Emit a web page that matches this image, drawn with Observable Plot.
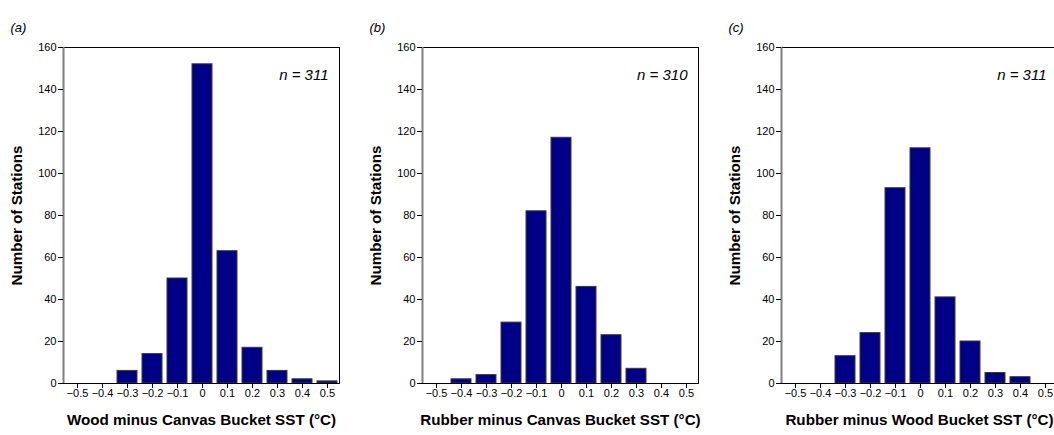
<!DOCTYPE html>
<html>
<head>
<meta charset="utf-8">
<script src="https://cdn.jsdelivr.net/npm/d3@7"></script>
<script src="https://cdn.jsdelivr.net/npm/@observablehq/plot@0.6"></script>
<style>
  html, body { margin: 0; padding: 0; background: #fff; }
  #wrap { position: relative; width: 1054px; height: 435px; overflow: hidden; font-family: "Liberation Sans", Arial, Helvetica, sans-serif; }
  .panel { position: absolute; top: 0; width: 350px; height: 435px; }
  .panel svg { max-width: none !important; }
</style>
</head>
<body>
<div id="wrap"></div>
<script>
// ---- data ----
const bins = [-0.5, -0.4, -0.3, -0.2, -0.1, 0, 0.1, 0.2, 0.3, 0.4, 0.5];
const countsWoodCanvas   = [0, 0, 6, 14, 50, 152, 63, 17, 6, 2, 1];
const countsRubberCanvas = [0, 2, 4, 29, 82, 117, 46, 23, 7, 0, 0];
const countsRubberWood   = [0, 0, 13, 24, 93, 112, 41, 20, 5, 3, 0];
const xTicks = [-0.5, -0.4, -0.3, -0.2, -0.1, 0, 0.1, 0.2, 0.3, 0.4, 0.5];
const yTicks = [0, 20, 40, 60, 80, 100, 120, 140, 160];
const panelLabels = ["(a)", "(b)", "(c)"];
const nLabels = ["n = 311", "n = 310", "n = 311"];
const xTitles = [
  "Wood minus Canvas Bucket SST (°C)",
  "Rubber minus Canvas Bucket SST (°C)",
  "Rubber minus Wood Bucket SST (°C)"
];
const yTitle = "Number of Stations";
const seriesList = [countsWoodCanvas, countsRubberCanvas, countsRubberWood];

// ---- layout ----
const lefts = [0, 359, 718];
const xDomain = [-0.556, 0.548];
const halfWidth = 0.04;
const fmt = d3.format(".1f");

const wrap = document.getElementById("wrap");

seriesList.forEach((counts, i) => {
  const data = bins.map((b, j) => ({bin: b, count: counts[j]}));
  const chart = Plot.plot({
    width: 350,
    height: 435,
    marginLeft: 63,
    marginRight: 11,
    marginTop: 47,
    marginBottom: 52,
    style: {fontFamily: '"Liberation Sans", Arial, Helvetica, sans-serif', background: "transparent", color: "#000", overflow: "visible"},
    x: {domain: xDomain, ticks: xTicks, tickFormat: d => d === 0 ? "0" : fmt(d)},
    y: {domain: [0, 160], ticks: yTicks},
    marks: [
      Plot.rectY(data, {
        x1: d => d.bin - halfWidth,
        x2: d => d.bin + halfWidth,
        y1: 0,
        y2: "count",
        fill: "#000087",
        stroke: "#3a3a3a",
        strokeWidth: 1
      }),
      Plot.frame({stroke: "#000", strokeWidth: 1}),
      Plot.ruleX([xDomain[0]], {stroke: "#808080", strokeWidth: 2}),
      Plot.axisX({ticks: xTicks, tickFormat: d => d === 0 ? "0" : fmt(d), tickSize: 5, tickPadding: 1, fontSize: 11, label: null}),
      Plot.axisY({ticks: yTicks, tickSize: 5, tickPadding: 2, fontSize: 11, label: null}),
      Plot.text([nLabels[i]], {frameAnchor: "top-right", dx: -11, dy: 22, textAnchor: "end", fontSize: 15, fontStyle: "italic"}),
      Plot.text([panelLabels[i]], {frameAnchor: "top-left", dx: -53, dy: -25, textAnchor: "start", fontSize: 13, fontStyle: "italic"}),
      Plot.text([xTitles[i]], {frameAnchor: "bottom", dy: 41, textAnchor: "middle", fontSize: 15.2, fontWeight: "bold"}),
      Plot.text([yTitle], {frameAnchor: "left", dx: -46, rotate: -90, textAnchor: "middle", fontSize: 15.2, fontWeight: "bold"})
    ]
  });
  const div = document.createElement("div");
  div.className = "panel";
  div.style.left = lefts[i] + "px";
  div.appendChild(chart);
  wrap.appendChild(div);
});
</script>
</body>
</html>
